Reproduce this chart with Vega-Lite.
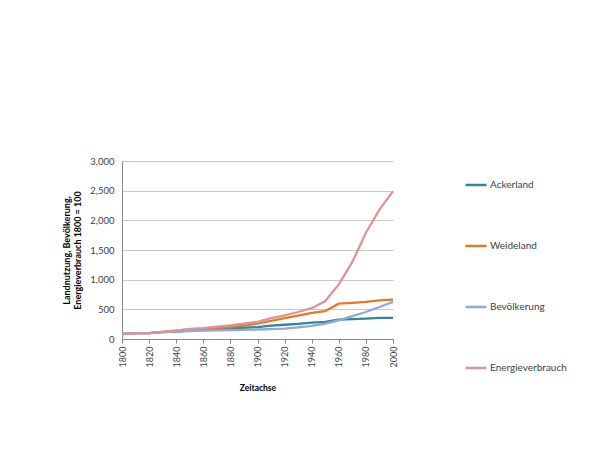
{
  "$schema": "https://vega.github.io/schema/vega-lite/v6.json",
  "width": 271,
  "height": 178,
  "padding": {"left": 62, "top": 156, "right": 5, "bottom": 5},
  "background": "white",
  "config": {
    "font": "Lato",
    "view": {"stroke": null},
    "axis": {"labelFont": "Lato", "titleFont": "Lato", "labelColor": "#404040", "titleColor": "#000000"}
  },
  "datasets": {
    "d": [
      {"year": 1800, "series": "Ackerland", "value": 90},
      {"year": 1810, "series": "Ackerland", "value": 100},
      {"year": 1820, "series": "Ackerland", "value": 100},
      {"year": 1830, "series": "Ackerland", "value": 115},
      {"year": 1840, "series": "Ackerland", "value": 125},
      {"year": 1850, "series": "Ackerland", "value": 140},
      {"year": 1860, "series": "Ackerland", "value": 155},
      {"year": 1870, "series": "Ackerland", "value": 170},
      {"year": 1880, "series": "Ackerland", "value": 180},
      {"year": 1890, "series": "Ackerland", "value": 190},
      {"year": 1900, "series": "Ackerland", "value": 200},
      {"year": 1910, "series": "Ackerland", "value": 225},
      {"year": 1920, "series": "Ackerland", "value": 240},
      {"year": 1930, "series": "Ackerland", "value": 255},
      {"year": 1940, "series": "Ackerland", "value": 275},
      {"year": 1950, "series": "Ackerland", "value": 290},
      {"year": 1960, "series": "Ackerland", "value": 325},
      {"year": 1970, "series": "Ackerland", "value": 335},
      {"year": 1980, "series": "Ackerland", "value": 345},
      {"year": 1990, "series": "Ackerland", "value": 355},
      {"year": 2000, "series": "Ackerland", "value": 355},
      {"year": 1800, "series": "Weideland", "value": 90},
      {"year": 1810, "series": "Weideland", "value": 100},
      {"year": 1820, "series": "Weideland", "value": 100},
      {"year": 1830, "series": "Weideland", "value": 120},
      {"year": 1840, "series": "Weideland", "value": 140},
      {"year": 1850, "series": "Weideland", "value": 160},
      {"year": 1860, "series": "Weideland", "value": 175},
      {"year": 1870, "series": "Weideland", "value": 185},
      {"year": 1880, "series": "Weideland", "value": 200},
      {"year": 1890, "series": "Weideland", "value": 225},
      {"year": 1900, "series": "Weideland", "value": 260},
      {"year": 1910, "series": "Weideland", "value": 305},
      {"year": 1920, "series": "Weideland", "value": 350},
      {"year": 1930, "series": "Weideland", "value": 395},
      {"year": 1940, "series": "Weideland", "value": 440},
      {"year": 1950, "series": "Weideland", "value": 470},
      {"year": 1960, "series": "Weideland", "value": 595},
      {"year": 1970, "series": "Weideland", "value": 610},
      {"year": 1980, "series": "Weideland", "value": 625},
      {"year": 1990, "series": "Weideland", "value": 650},
      {"year": 2000, "series": "Weideland", "value": 665},
      {"year": 1800, "series": "Bevölkerung", "value": 100},
      {"year": 1810, "series": "Bevölkerung", "value": 100},
      {"year": 1820, "series": "Bevölkerung", "value": 100},
      {"year": 1830, "series": "Bevölkerung", "value": 115},
      {"year": 1840, "series": "Bevölkerung", "value": 125},
      {"year": 1850, "series": "Bevölkerung", "value": 135},
      {"year": 1860, "series": "Bevölkerung", "value": 140},
      {"year": 1870, "series": "Bevölkerung", "value": 145},
      {"year": 1880, "series": "Bevölkerung", "value": 150},
      {"year": 1890, "series": "Bevölkerung", "value": 155},
      {"year": 1900, "series": "Bevölkerung", "value": 160},
      {"year": 1910, "series": "Bevölkerung", "value": 165},
      {"year": 1920, "series": "Bevölkerung", "value": 175},
      {"year": 1930, "series": "Bevölkerung", "value": 195},
      {"year": 1940, "series": "Bevölkerung", "value": 220},
      {"year": 1950, "series": "Bevölkerung", "value": 260},
      {"year": 1960, "series": "Bevölkerung", "value": 315},
      {"year": 1970, "series": "Bevölkerung", "value": 385},
      {"year": 1980, "series": "Bevölkerung", "value": 455},
      {"year": 1990, "series": "Bevölkerung", "value": 540},
      {"year": 2000, "series": "Bevölkerung", "value": 625},
      {"year": 1800, "series": "Energieverbrauch", "value": 80},
      {"year": 1810, "series": "Energieverbrauch", "value": 100},
      {"year": 1820, "series": "Energieverbrauch", "value": 100},
      {"year": 1830, "series": "Energieverbrauch", "value": 120},
      {"year": 1840, "series": "Energieverbrauch", "value": 140},
      {"year": 1850, "series": "Energieverbrauch", "value": 170},
      {"year": 1860, "series": "Energieverbrauch", "value": 185},
      {"year": 1870, "series": "Energieverbrauch", "value": 210},
      {"year": 1880, "series": "Energieverbrauch", "value": 230},
      {"year": 1890, "series": "Energieverbrauch", "value": 260},
      {"year": 1900, "series": "Energieverbrauch", "value": 290},
      {"year": 1910, "series": "Energieverbrauch", "value": 350},
      {"year": 1920, "series": "Energieverbrauch", "value": 400},
      {"year": 1930, "series": "Energieverbrauch", "value": 455},
      {"year": 1940, "series": "Energieverbrauch", "value": 520},
      {"year": 1950, "series": "Energieverbrauch", "value": 640},
      {"year": 1960, "series": "Energieverbrauch", "value": 920},
      {"year": 1970, "series": "Energieverbrauch", "value": 1300},
      {"year": 1980, "series": "Energieverbrauch", "value": 1790},
      {"year": 1990, "series": "Energieverbrauch", "value": 2180},
      {"year": 2000, "series": "Energieverbrauch", "value": 2490}
    ]
  },
  "data": {"name": "d"},
  "mark": {"type": "line", "strokeWidth": 2.3},
  "encoding": {
    "x": {
      "field": "year", "type": "quantitative",
      "scale": {"domain": [1800, 2000], "nice": false, "zero": false},
      "axis": {
        "title": "Zeitachse", "titleFontSize": 8.5, "titleFontWeight": "bold", "titlePadding": 17,
        "values": [1800, 1820, 1840, 1860, 1880, 1900, 1920, 1940, 1960, 1980, 2000],
        "format": "d", "labelAngle": -90, "labelFontSize": 9, "labelPadding": 3,
        "grid": false, "domainColor": "#868686", "tickColor": "#868686", "tickSize": 4
      }
    },
    "y": {
      "field": "value", "type": "quantitative",
      "scale": {"domain": [0, 3000], "nice": false},
      "axis": {
        "title": ["Landnutzung, Bevölkerung,", "Energieverbrauch 1800 = 100"],
        "titleFontSize": 9, "titleFontWeight": "bold", "titlePadding": 7, "titleLineHeight": 11,
        "values": [0, 500, 1000, 1500, 2000, 2500, 3000], "format": ",d",
        "labelFontSize": 9.5, "labelPadding": 8,
        "grid": true, "gridColor": "#c8c8c8", "gridWidth": 1,
        "domainColor": "#868686", "ticks": false
      }
    },
    "color": {
      "field": "series", "type": "nominal",
      "scale": {
        "domain": ["Ackerland", "Weideland", "Bevölkerung", "Energieverbrauch"],
        "range": ["#31869b", "#e07b2c", "#8eaadb", "#d99694"]
      },
      "legend": {
        "title": null, "orient": "right", "offset": 54, "padding": 12,
        "symbolType": "stroke", "symbolSize": 441, "symbolStrokeWidth": 2.5,
        "labelFontSize": 10, "labelColor": "#404040", "labelOffset": 2,
        "rowPadding": 44
      }
    }
  }
}
